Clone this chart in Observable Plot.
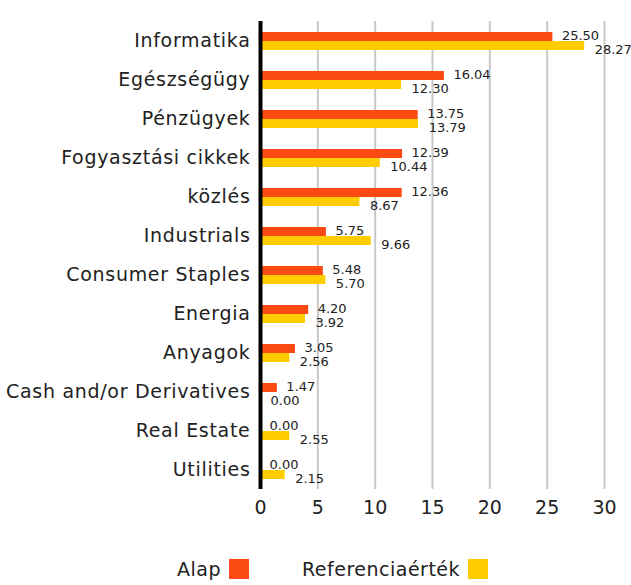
<!DOCTYPE html>
<html><head><meta charset="utf-8">
<script src="https://cdn.jsdelivr.net/npm/d3@7"></script>
<script src="https://cdn.jsdelivr.net/npm/@observablehq/plot@0.6"></script>
<style>
body{margin:0;background:#fff;font-family:"DejaVu Sans",sans-serif;}
#legend{position:relative;height:55px;font-size:19px;letter-spacing:0.5px;color:#222;}
.li{position:absolute;top:29px;height:20px;display:flex;align-items:center;}
.sw{width:20px;height:20px;margin-left:8px;}
[aria-label="fy-axis tick label"] text{letter-spacing:0.7px;}
</style></head>
<body>
<div id="chart"></div>
<div id="legend"></div>
<script>
const categories = ["Informatika","Egészségügy","Pénzügyek","Fogyasztási cikkek","közlés","Industrials","Consumer Staples","Energia","Anyagok","Cash and/or Derivatives","Real Estate","Utilities"];
const alap = [25.50,16.04,13.75,12.39,12.36,5.75,5.48,4.20,3.05,1.47,0.00,0.00];
const referencia = [28.27,12.30,13.79,10.44,8.67,9.66,5.70,3.92,2.56,0.00,2.55,2.15];
const seriesNames = ["Alap","Referenciaérték"];
const colors = ["#fc4a13","#ffcc00"];
const xTicks = [0,5,10,15,20,25,30];

const data = [];
categories.forEach((c,i)=>{
  data.push({category:c, series:seriesNames[0], value:alap[i]});
  data.push({category:c, series:seriesNames[1], value:referencia[i]});
});

const plot = Plot.plot({
  width:631, height:530,
  marginLeft:260, marginRight:27, marginTop:21, marginBottom:41,
  style:{fontFamily:"DejaVu Sans, sans-serif", color:"#222"},
  x:{domain:[0,30]},
  fy:{domain:categories, padding:0},
  y:{domain:seriesNames, paddingInner:0, paddingOuter:1, axis:null},
  color:{domain:seriesNames, range:colors},
  marks:[
    Plot.ruleX(xTicks.slice(1), {stroke:"#c8c8c8", strokeWidth:2}),
    Plot.barX(data, {fy:"category", y:"series", x:"value", fill:"series"}),
    Plot.text(data.filter(d=>d.series===seriesNames[0]), {fy:"category", y:"series", x:"value", text:d=>d.value.toFixed(2), textAnchor:"start", dx:9, dy:-1, fontSize:13, fill:"#222"}),
    Plot.text(data.filter(d=>d.series===seriesNames[1]), {fy:"category", y:"series", x:"value", text:d=>d.value.toFixed(2), textAnchor:"start", dx:10, dy:4, fontSize:13, fill:"#222"}),
    Plot.ruleX([0], {stroke:"#000", strokeWidth:4}),
    Plot.axisX({ticks:xTicks, tickSize:0, tickPadding:11, fontSize:19, label:null}),
    Plot.axisFy({anchor:"left", tickSize:0, tickPadding:10, fontSize:19, label:null})
  ]
});
document.getElementById("chart").appendChild(plot);

const legend = document.getElementById("legend");
const pos = [177, 302];
seriesNames.forEach((s,i)=>{
  const d = document.createElement("div");
  d.className="li"; d.style.left=pos[i]+"px";
  d.innerHTML = `<span>${s}</span><span class="sw" style="background:${colors[i]}"></span>`;
  legend.appendChild(d);
});
</script>
</body></html>
